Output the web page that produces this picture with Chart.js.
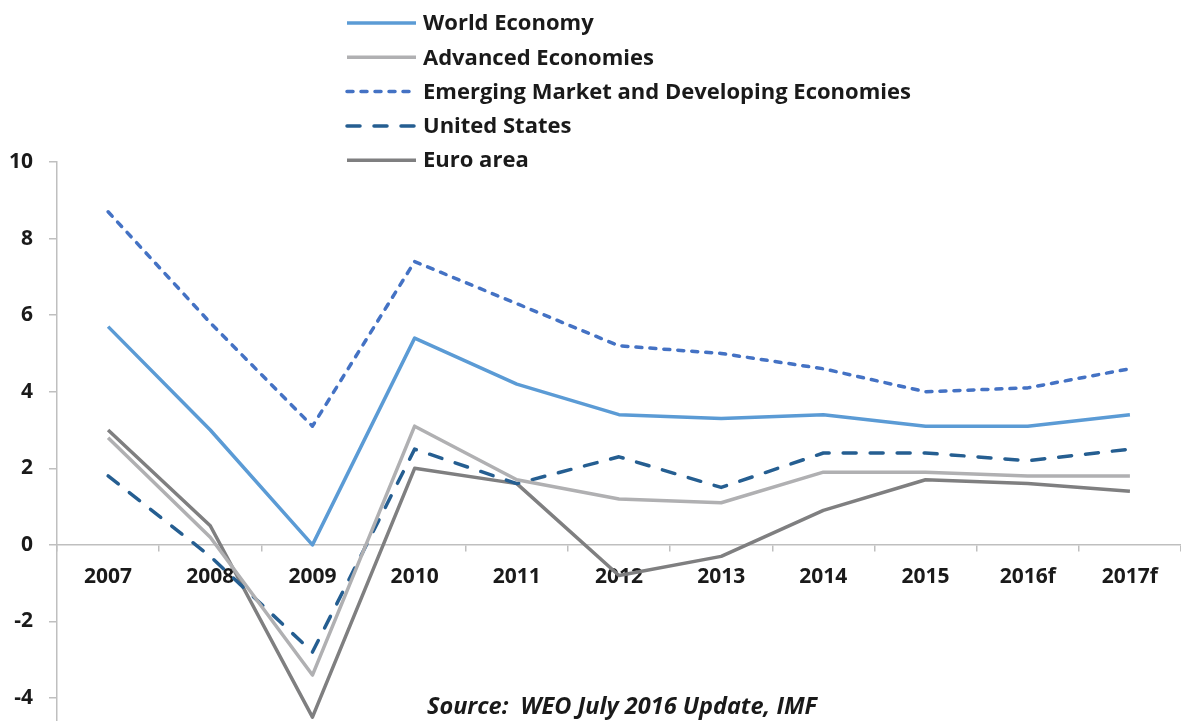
<!DOCTYPE html>
<html>
<head>
<meta charset="utf-8">
<script src="https://cdn.jsdelivr.net/npm/chart.js@4"></script>
<style>
  html, body { margin: 0; padding: 0; background: #fff; }
  #wrap { width: 1181px; height: 721px; position: relative; }
</style>
</head>
<body>
<div id="wrap"><canvas id="myChart"></canvas></div>
<script>
// data
let years = ["2007", "2008", "2009", "2010", "2011", "2012", "2013", "2014", "2015", "2016f", "2017f"];
let worldEconomy = [5.7, 3.0, 0.0, 5.4, 4.2, 3.4, 3.3, 3.4, 3.1, 3.1, 3.4];
let advancedEconomies = [2.8, 0.2, -3.4, 3.1, 1.7, 1.2, 1.1, 1.9, 1.9, 1.8, 1.8];
let emergingEconomies = [8.7, 5.8, 3.1, 7.4, 6.3, 5.2, 5.0, 4.6, 4.0, 4.1, 4.6];
let unitedStates = [1.8, -0.3, -2.8, 2.5, 1.6, 2.3, 1.5, 2.4, 2.4, 2.2, 2.5];
let euroArea = [3.0, 0.5, -4.5, 2.0, 1.6, -0.8, -0.3, 0.9, 1.7, 1.6, 1.4];
let yTicks = [-4, -2, 0, 2, 4, 6, 8, 10];
let sourceText = "Source:  WEO July 2016 Update, IMF";

let fontFam = "'Open Sans', sans-serif";
let axisGray = '#BFBFBF';

/* vertical legend at the top */
let legendPlugin = {
  id: 'stackLegend',
  afterDraw(chart) {
    let ctx = chart.ctx;
    ctx.save();
    ctx.font = "bold 22px " + fontFam;
    ctx.textBaseline = 'middle';
    ctx.fillStyle = '#1a1a1a';
    chart.data.datasets.forEach((ds, i) => {
      let y = 23 + i * 34.3;
      ctx.beginPath();
      ctx.strokeStyle = ds.borderColor;
      ctx.lineWidth = ds.borderWidth;
      ctx.lineCap = ds.borderDash.length ? 'round' : 'butt';
      ctx.setLineDash(ds.legendDash || []);
      ctx.moveTo(347, y);
      ctx.lineTo(416, y);
      ctx.stroke();
      ctx.setLineDash([]);
      ctx.fillText(ds.label, 423, y + 1);
    });
    // source note
    ctx.font = "italic bold 23.5px " + fontFam;
    ctx.textAlign = 'center';
    ctx.fillText(sourceText, 622, 707);
    ctx.restore();
  }
};

let ctx = document.getElementById('myChart').getContext('2d');
let my_chart = new Chart(ctx, {
  type: 'line',
  data: {
    labels: years,
    datasets: [{
      label: 'World Economy',
      data: worldEconomy,
      borderColor: '#5B9BD5',
      borderWidth: 3.5,
      borderDash: [],
    }, {
      label: 'Advanced Economies',
      data: advancedEconomies,
      borderColor: '#B0B0B2',
      borderWidth: 3.5,
      borderDash: [],
    }, {
      label: 'Emerging Market and Developing Economies',
      data: emergingEconomies,
      borderColor: '#4472C4',
      borderWidth: 3.5,
      borderDash: [6, 8],
      legendDash: [6, 8],
      borderCapStyle: 'round',
    }, {
      label: 'United States',
      data: unitedStates,
      borderColor: '#255E91',
      borderWidth: 3.5,
      borderDash: [13, 14],
      legendDash: [13, 14],
      borderCapStyle: 'round',
    }, {
      label: 'Euro area',
      data: euroArea,
      borderColor: '#7F7F80',
      borderWidth: 3.5,
      borderDash: [],
    }]
  },
  options: {
    responsive: true,
    maintainAspectRatio: false,
    animation: false,
    layout: { padding: { top: 162, right: 0, bottom: 0, left: 0 } },
    elements: {
      point: { radius: 0, hoverRadius: 0 },
      line: { tension: 0, fill: false, borderJoinStyle: 'round' }
    },
    plugins: {
      legend: { display: false },
      tooltip: { enabled: false }
    },
    scales: {
      x: {
        position: { y: 0 },
        offset: true,
        afterFit: function (scale) {
          scale.height = 0;
        },
        grid: {
          offset: true,
          drawOnChartArea: false,
          drawTicks: true,
          tickLength: 6,
          color: axisGray,
          lineWidth: 1.5
        },
        border: { color: axisGray, width: 1.5 },
        ticks: {
          padding: 14,
          color: '#1a1a1a',
          font: { family: fontFam, size: 21, weight: 'bold' },
          maxRotation: 0,
          autoSkip: false
        }
      },
      y: {
        min: -4.6,
        max: 10,
        afterBuildTicks: function (scale) {
          scale.ticks = yTicks.map(v => ({ value: v }));
        },
        afterFit: function (scale) {
          scale.width = 57;
          // the lowest tick is not at the bottom edge, no room needed
          scale.paddingBottom = 0;
        },
        grid: {
          drawOnChartArea: false,
          tickLength: 8,
          color: axisGray,
          lineWidth: 1.5
        },
        border: { color: axisGray, width: 1.5 },
        ticks: {
          padding: 16,
          color: '#1a1a1a',
          font: { family: fontFam, size: 21, weight: 'bold' }
        }
      }
    }
  },
  plugins: [legendPlugin]
});
</script>
</body>
</html>
